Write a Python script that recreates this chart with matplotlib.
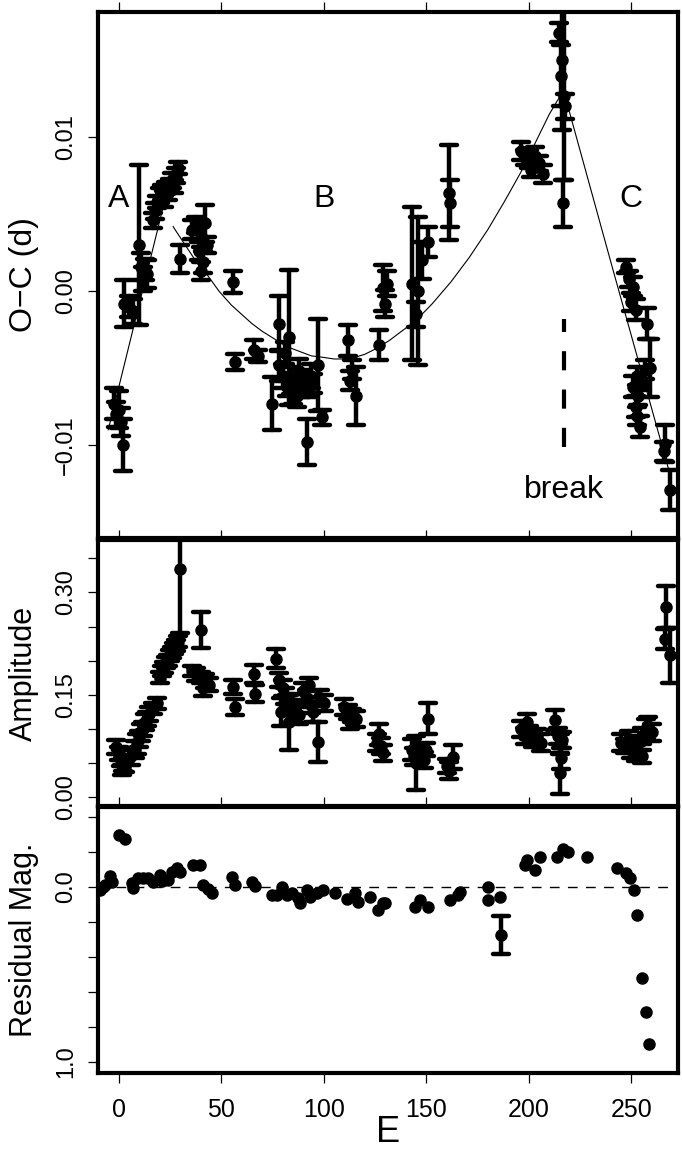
import matplotlib
matplotlib.use('Agg')
import matplotlib.pyplot as plt
from matplotlib.markers import MarkerStyle

plt.rcParams['font.family'] = ['Liberation Sans', 'DejaVu Sans']

# ---- O-C (days) with errors ----
oc_e = [-2, -1, 0, 1, 2, 2.5, 5, 7, 10, 11, 12, 13, 14,
        17, 18, 19, 20, 21, 22, 23, 24, 25, 26, 27, 28, 29, 30,
        36, 38, 40, 42, 39, 41, 40, 43, 56, 57, 66, 68,
        75, 78, 78, 80, 81, 82, 83, 84, 85, 86, 87, 88, 89, 90, 92, 93, 94, 95, 97, 99,
        112, 113, 114, 116, 127, 129, 130, 131,
        143, 145, 146, 148, 151, 161, 161.5,
        196, 198, 200, 201, 203, 205, 207,
        214.5, 215.5, 216, 217, 217.5, 216.5,
        247.5, 249, 251, 250, 252, 257.5, 259, 252.5, 251, 253, 252, 252.5, 254, 255, 256.5,
        266.3, 266, 269]
oc_val = [-0.0073, -0.0080, -0.0077, -0.0085, -0.0100, -0.0008, -0.0010, -0.0013, 0.0030, 0.0016, 0.0008, 0.0014, 0.0011,
          0.0046, 0.0052, 0.0058, 0.0062, 0.0065, 0.0060, 0.0067, 0.0064, 0.0069, 0.0072, 0.0068, 0.0075, 0.0080, 0.0021,
          0.0040, 0.0043, 0.0036, 0.0044, 0.0026, 0.0019, 0.0013, 0.0030, 0.0006, -0.0046, -0.0038, -0.0042,
          -0.0073, -0.0021, -0.0048, -0.0055, -0.0040, -0.0062, -0.0030, -0.0058, -0.0066, -0.0060, -0.0068, -0.0052,
          -0.0064, -0.0057, -0.0098, -0.0062, -0.0055, -0.0060, -0.0048, -0.0082,
          -0.0032, -0.0058, -0.0051, -0.0068, -0.0035, 0.0002, -0.0008, 0.0005,
          0.0005, -0.0015, 0.0000, 0.0020, 0.0032, 0.0064, 0.0057,
          0.0091, 0.0087, 0.0086, 0.0079, 0.0088, 0.0083, 0.0076,
          0.0168, 0.0140, 0.0150, 0.0127, 0.0120, 0.0057,
          0.0016, 0.0008, 0.0003, -0.0007, -0.0012, -0.0021, -0.0050, -0.0055, -0.0062, -0.0068, -0.0075, -0.0081,
          -0.0088, -0.0059, -0.0051,
          -0.0099, -0.0104, -0.0129]
oc_err = [0.0010, 0.0008, 0.0012, 0.0009, 0.0017, 0.0015, 0.0007, 0.0008, 0.0052, 0.0009, 0.0008, 0.0007, 0.0009,
          0.0005, 0.0005, 0.0004, 0.0005, 0.0004, 0.0005, 0.0004, 0.0005, 0.0004, 0.0005, 0.0004, 0.0005, 0.0004, 0.0009,
          0.0006, 0.0005, 0.0007, 0.0012, 0.0006, 0.0007, 0.0006, 0.0005, 0.0007, 0.0005, 0.0006, 0.0004,
          0.0017, 0.0018, 0.0010, 0.0008, 0.0007, 0.0006, 0.0044, 0.0009, 0.0007, 0.0006, 0.0007, 0.0008,
          0.0005, 0.0006, 0.0015, 0.0007, 0.0008, 0.0006, 0.0030, 0.0005,
          0.0010, 0.0006, 0.0006, 0.0019, 0.0010, 0.0015, 0.0009, 0.0008,
          0.0050, 0.0008, 0.0048, 0.0012, 0.0010, 0.0031, 0.0015,
          0.0006, 0.0005, 0.0006, 0.0005, 0.0006, 0.0005, 0.0006,
          0.0006, 0.0020, 0.0045, 0.0055, 0.0008, 0.0015,
          0.0004, 0.0005, 0.0006, 0.0006, 0.0007, 0.0010, 0.0019, 0.0006, 0.0007, 0.0006, 0.0007, 0.0006,
          0.0007, 0.0005, 0.0006,
          0.0012, 0.0006, 0.0013]

# fitted O-C curve (three pieces A, B, C)
fitA_e = [-5, 27]
fitA_val = [-0.0090, 0.0083]
fitB_e = [26.6, 31, 35, 39, 43.6, 49, 55, 60, 65, 70, 76, 82, 88, 94, 100, 105, 110, 115, 120, 126,
          132, 138, 145, 153, 162, 171, 180, 188, 196, 203, 210, 214, 217]
fitB_val = [0.0042, 0.0033, 0.0025, 0.0017, 0.0010, 0.0000, -0.0009, -0.0015, -0.0021, -0.0026, -0.0031,
            -0.0036, -0.0039, -0.0042, -0.0043, -0.0044, -0.0044, -0.0043, -0.0041, -0.0037,
            -0.0032, -0.0026, -0.0019, -0.0008, 0.0006, 0.0022, 0.0040, 0.0058, 0.0077, 0.0096,
            0.0115, 0.0124, 0.0130]
fitC_e = [217, 241, 268]
fitC_val = [0.0130, 0.0014, -0.0115]

# ---- Amplitude with errors ----
amp_e = [-1, 0, 1, 2, 3, 1.5, 6, 8, 9, 10, 11, 12, 13, 14, 15, 17, 19,
         20, 21, 22, 23, 24, 25, 26, 27, 28, 29, 30, 40, 36, 38, 40, 42, 44, 41,
         56, 57, 66, 66.5, 77, 78, 80, 81, 82, 83, 84, 85, 86, 88, 79, 90, 92, 93, 94, 95, 97, 98, 100,
         110, 112, 114, 116, 113, 126, 127, 128, 129,
         143, 144, 145, 147, 149, 151, 150, 160, 161, 163,
         196, 198, 199, 200, 202, 204, 206, 212.7, 214, 216, 215, 215.5, 215,
         245, 247, 249, 250, 252, 253, 255, 257, 258, 260, 255,
         266.8, 266.3, 269]
amp_val = [0.074, 0.064, 0.058, 0.048, 0.045, 0.040, 0.060, 0.070, 0.078, 0.085, 0.095, 0.100, 0.110, 0.115, 0.122,
           0.130, 0.138,
           0.175, 0.185, 0.190, 0.198, 0.200, 0.208, 0.212, 0.218, 0.222, 0.228, 0.335, 0.245, 0.185, 0.180, 0.175,
           0.170, 0.165, 0.160,
           0.162, 0.132, 0.181, 0.152, 0.203, 0.172, 0.160, 0.148, 0.135, 0.110, 0.140, 0.125, 0.130, 0.120, 0.125,
           0.155, 0.145, 0.165, 0.135, 0.125, 0.081, 0.145, 0.138,
           0.132, 0.125, 0.120, 0.115, 0.110, 0.080, 0.092, 0.075, 0.065,
           0.070, 0.060, 0.050, 0.065, 0.055, 0.115, 0.070, 0.046, 0.039, 0.059,
           0.100, 0.090, 0.110, 0.095, 0.085, 0.090, 0.080, 0.113, 0.090, 0.084, 0.078, 0.057, 0.035,
           0.080, 0.075, 0.085, 0.070, 0.065, 0.080, 0.090, 0.100, 0.105, 0.095, 0.060,
           0.279, 0.232, 0.208]
amp_err = [0.010, 0.010, 0.012, 0.010, 0.008, 0.008, 0.012, 0.012, 0.015, 0.012, 0.012, 0.010, 0.012, 0.010, 0.010,
           0.008, 0.008,
           0.008, 0.008, 0.008, 0.008, 0.008, 0.008, 0.008, 0.008, 0.008, 0.008, 0.095, 0.027, 0.008, 0.010, 0.008,
           0.010, 0.010, 0.012,
           0.010, 0.012, 0.013, 0.012, 0.014, 0.010, 0.012, 0.012, 0.015, 0.040, 0.012, 0.015, 0.010, 0.012, 0.020,
           0.012, 0.012, 0.010, 0.012, 0.015, 0.030, 0.012, 0.012,
           0.012, 0.010, 0.010, 0.012, 0.010, 0.012, 0.015, 0.012, 0.012,
           0.015, 0.012, 0.040, 0.012, 0.012, 0.023, 0.010, 0.010, 0.012, 0.018,
           0.012, 0.012, 0.012, 0.010, 0.012, 0.010, 0.012, 0.015, 0.012, 0.012, 0.015, 0.015, 0.030,
           0.012, 0.010, 0.012, 0.012, 0.012, 0.010, 0.012, 0.015, 0.012, 0.012, 0.010,
           0.031, 0.015, 0.040]

# ---- Residual magnitude ----
res_e = [-9, -7.4, -6.6, -4.1, -3.3, 0, 3.2, 6.4, 7.2, 9.7, 12, 14.5, 17, 20.2, 21, 24.3, 26, 28.4, 30,
         36.5, 39.7, 41.3, 43.8, 45.4, 55.2, 56.8, 64.9, 66.5,
         74.6, 77.1, 79.5, 82, 84.4, 87.6, 88.5, 91.7, 93.3, 96.6, 99.8, 105.5, 111.2, 115.3, 116.9,
         122.6, 126.6, 129, 129.9, 144.5, 146.9, 151, 161.5, 165.6, 166.4,
         180.2, 180.2, 185.9, 198.9, 198.1, 203, 205.4, 213.5, 216.5, 219.2, 228.2,
         243.1, 247.6, 249.3, 251.2, 252.5, 255.3, 257, 258.6]
res_val = [0.019, 0.004, -0.010, -0.059, -0.029, -0.295, -0.270, -0.019, 0.010, -0.048, -0.048, -0.048, -0.029,
           -0.067, -0.030, -0.038, -0.086, -0.105, -0.086,
           -0.124, -0.124, -0.010, 0.015, 0.034, -0.057, -0.010, -0.029, -0.004,
           0.047, 0.047, 0.004, 0.047, 0.038, 0.067, 0.095, 0.019, 0.057, 0.038, 0.019, 0.038, 0.072, 0.038, 0.086,
           0.061, 0.133, 0.095, 0.095, 0.114, 0.076, 0.114, 0.076, 0.047, 0.029,
           0.004, 0.076, 0.057, -0.153, -0.124, -0.095, -0.171, -0.171, -0.214, -0.200, -0.171,
           -0.105, -0.076, -0.048, 0.019, 0.162, 0.524, 0.714, 0.897]
res_bar_e = [186.2]
res_bar_val = [0.276]
res_bar_err = [0.107]

xticks = [0, 50, 100, 150, 200, 250]


def draw_bars(ax, x, y, err):
    line, caps, cols = ax.errorbar(x, y, yerr=err, fmt='o', color='black', ms=8,
                                   elinewidth=3.2, capsize=5.5, capthick=3.2)
    for c in caps:
        c.set_marker(MarkerStyle('_', capstyle='round'))
    for col in cols:
        col.set_capstyle('round')


def style(ax):
    for s in ax.spines.values():
        s.set_linewidth(3)
    ax.set_xlim(-10, 272.7)
    ax.set_xticks(xticks)
    ax.tick_params(axis='both', direction='out', length=7, width=0.9, top=True)
    ax.tick_params(axis='x', labelsize=18, pad=11)
    ax.tick_params(axis='y', labelsize=17, pad=8)
    for t in ax.get_yticklabels():
        t.set_rotation(90)
        t.set_va('center')


fig = plt.figure(figsize=(6.82, 11.54), dpi=100)
ax1 = fig.add_axes([0.1437, 0.5338, 0.8504, 0.4561])
ax2 = fig.add_axes([0.1437, 0.3016, 0.8504, 0.2304])
ax3 = fig.add_axes([0.1437, 0.0702, 0.8504, 0.2305])

# top panel: O-C
ax1.plot(fitA_e, fitA_val, color='black', lw=0.8)
ax1.plot(fitB_e, fitB_val, color='black', lw=0.8)
ax1.plot(fitC_e, fitC_val, color='black', lw=0.8)
draw_bars(ax1, oc_e, oc_val, oc_err)
ax1.plot([217, 217], [-0.0101, -0.0018], color='black', lw=3, dashes=(4.6, 4.6))
ax1.text(0, 0.006, 'A', fontsize=23, ha='center', va='center')
ax1.text(100, 0.006, 'B', fontsize=23, ha='center', va='center')
ax1.text(250, 0.006, 'C', fontsize=23, ha='center', va='center')
ax1.text(217, -0.0129, 'break', fontsize=23, ha='center', va='center')
ax1.set_ylim(-0.01603, 0.01816)
ax1.set_yticks([-0.01, 0.0, 0.01])
ax1.set_yticklabels(['\u22120.01', '0.00', '0.01'])
style(ax1)
ax1.tick_params(axis='x', labelbottom=False)
ax1.set_ylabel('O\u2212C (d)', fontsize=23, va='center')
ax1.yaxis.set_label_coords(-0.128, 0.5)

# middle panel: amplitude
draw_bars(ax2, amp_e, amp_val, amp_err)
ax2.set_ylim(-0.0127, 0.3768)
ax2.set_yticks([0, 0.05, 0.10, 0.15, 0.20, 0.25, 0.30, 0.35])
ax2.set_yticklabels(['0.00', '', '', '0.15', '', '', '0.30', ''])
style(ax2)
ax2.tick_params(axis='x', labelbottom=False)
ax2.set_ylabel('Amplitude', fontsize=22, va='center')
ax2.yaxis.set_label_coords(-0.128, 0.5)

# bottom panel: residuals
ax3.axhline(0, color='black', lw=1, dashes=(7, 6))
ax3.plot(res_e, res_val, 'o', color='black', ms=8)
draw_bars(ax3, res_bar_e, res_bar_val, res_bar_err)
ax3.set_ylim(1.065, -0.455)
ax3.set_yticks([-0.4, -0.2, 0.0, 0.2, 0.4, 0.6, 0.8, 1.0])
ax3.set_yticklabels(['', '', '0.0', '', '', '', '', '1.0'])
style(ax3)
ax3.set_ylabel('Residual Mag.', fontsize=22, va='center')
ax3.yaxis.set_label_coords(-0.128, 0.5)
ax3.set_xlabel('E', fontsize=26, labelpad=-5)

fig.savefig('out.png', dpi=100)
